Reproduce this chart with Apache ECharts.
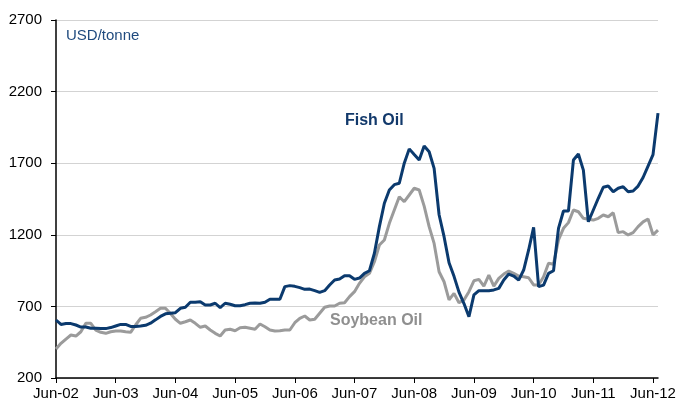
<!DOCTYPE html>
<html>
<head>
<meta charset="utf-8">
<script src="https://cdn.jsdelivr.net/npm/echarts@6/dist/echarts.min.js"></script>
<style>
  html, body { margin: 0; padding: 0; background: #ffffff; }
  #chart { width: 680px; height: 403px; }
</style>
</head>
<body>
<div id="chart"></div>
<script>
// Monthly prices, Jun-2002 to Jul-2012 (USD/tonne)
const monthNames = ['Jan','Feb','Mar','Apr','May','Jun','Jul','Aug','Sep','Oct','Nov','Dec'];
const months = [];
for (let k = 0; k < 122; k++) {
  const m = (5 + k) % 12;
  const y = 2 + Math.floor((5 + k) / 12);
  months.push(monthNames[m] + '-' + String(y).padStart(2, '0'));
}

const fishOil = [
  605, 574, 580, 580, 570, 556, 556, 547, 547, 545, 545, 552,
  563, 574, 574, 560, 560, 563, 568, 583, 606, 630, 648, 652,
  656, 687, 694, 729, 729, 733, 710, 710, 722, 691, 722, 715,
  705, 705, 712, 722, 724, 722, 729, 750, 750, 750, 838, 845,
  840, 831, 819, 821, 810, 798, 810, 849, 884, 891, 914, 914,
  889, 898, 931, 949, 1071, 1257, 1420, 1513, 1550, 1560, 1700, 1800,
  1760, 1722, 1820, 1780, 1664, 1340, 1187, 1005, 910, 800, 720, 628,
  780, 810, 810, 810, 815, 826, 884, 926, 912, 884, 954, 1094,
  1252, 838, 849, 931, 949, 1245, 1366, 1366, 1722, 1764, 1652, 1291,
  1373, 1455, 1532, 1541, 1501, 1525, 1536, 1501, 1506, 1540, 1600, 1680,
  1760, 2050
];

const soybeanOil = [
  402, 442, 472, 500, 493, 523, 582, 582, 535, 519, 512, 523,
  528, 528, 523, 519, 570, 617, 624, 640, 663, 687, 687, 650,
  610, 582, 593, 605, 582, 554, 563, 535, 512, 493, 535, 540,
  530, 551, 554, 547, 540, 577, 558, 535, 528, 530, 535, 535,
  586, 617, 633, 605, 610, 652, 694, 703, 703, 722, 726, 768,
  803, 861, 907, 931, 1012, 1129, 1164, 1280, 1373, 1466, 1431, 1478,
  1525, 1513, 1400, 1257, 1140, 942, 872, 745, 791, 726, 745, 803,
  879, 889, 842, 919, 842, 896, 926, 947, 931, 912, 907, 900,
  850, 849, 907, 1001, 995, 1164, 1245, 1285, 1373, 1361, 1315, 1308,
  1303, 1315, 1338, 1326, 1354, 1215, 1222, 1199, 1215, 1257, 1290, 1310,
  1200, 1233
];

const yTicks = { min: 200, max: 2700, interval: 500 };

const NAVY = '#0b3a6e';
const GREY = '#9b9b9b';
const FONT = '"Liberation Sans", Arial, sans-serif';

const chart = echarts.init(document.getElementById('chart'), null, { renderer: 'canvas' });

chart.setOption({
  animation: false,
  backgroundColor: '#ffffff',
  grid: { left: 56, right: 22, top: 20, bottom: 25, containLabel: false },
  xAxis: {
    type: 'category',
    data: months,
    boundaryGap: false,
    axisLine: { show: true, lineStyle: { color: '#000000', width: 1.5 } },
    axisTick: { show: true, interval: 11, length: 5, inside: false, lineStyle: { color: '#000000', width: 1 } },
    axisLabel: { interval: 11, color: '#000000', fontSize: 15, fontFamily: FONT, margin: 8 },
    splitLine: { show: false }
  },
  yAxis: {
    type: 'value',
    min: yTicks.min,
    max: yTicks.max,
    interval: yTicks.interval,
    axisLine: { show: true, lineStyle: { color: '#000000', width: 1.5 } },
    axisTick: { show: true, length: 5, lineStyle: { color: '#000000', width: 1 } },
    axisLabel: { color: '#000000', fontSize: 15, fontFamily: FONT, margin: 14, formatter: v => String(v) },
    splitLine: { show: true, lineStyle: { color: '#d3d3d3', width: 1 } }
  },
  series: [
    {
      name: 'Soybean Oil',
      type: 'line',
      data: soybeanOil,
      symbol: 'none',
      lineStyle: { color: GREY, width: 3 },
      z: 2
    },
    {
      name: 'Fish Oil',
      type: 'line',
      data: fishOil,
      symbol: 'none',
      lineStyle: { color: NAVY, width: 3 },
      z: 3
    }
  ],
  graphic: [
    {
      type: 'text', left: 66, top: 28,
      style: { text: 'USD/tonne', fill: '#1f4a7e', font: '15px ' + FONT }
    },
    {
      type: 'text', left: 345, top: 113,
      style: { text: 'Fish Oil', fill: '#12396b', font: 'bold 16px ' + FONT }
    },
    {
      type: 'text', left: 330, top: 313,
      style: { text: 'Soybean Oil', fill: '#8f8f8f', font: 'bold 16px ' + FONT }
    }
  ]
});
</script>
</body>
</html>
